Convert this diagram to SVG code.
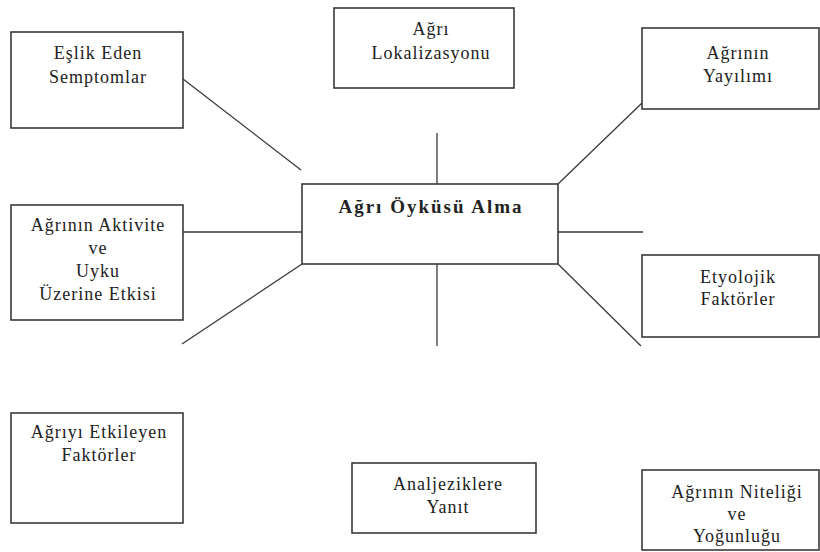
<svg xmlns="http://www.w3.org/2000/svg" width="820" height="552" viewBox="0 0 820 552">
<style>
.box{fill:#fff;stroke:#3a3a3a;stroke-width:1.6}
.t{font-size:18px;letter-spacing:1px;fill:#222;text-anchor:middle}
.b{font-size:19px;font-weight:bold;letter-spacing:2px;fill:#222;text-anchor:middle}
.c{stroke:#3a3a3a;stroke-width:1.3;fill:none}
</style>
<rect width="820" height="552" fill="#fff"/>
<g id="connectors">
<line class="c" x1="183" y1="79" x2="301" y2="170"/>
<line class="c" x1="183" y1="232" x2="302" y2="232"/>
<line class="c" x1="182" y1="344" x2="302" y2="264"/>
<line class="c" x1="437" y1="133" x2="437" y2="184"/>
<line class="c" x1="437" y1="264" x2="437" y2="346"/>
<line class="c" x1="558" y1="184" x2="642" y2="103"/>
<line class="c" x1="558" y1="232" x2="643" y2="232"/>
<line class="c" x1="558" y1="264" x2="641" y2="346"/>
</g>
<g font-family="Liberation Serif, Times New Roman, DejaVu Serif, serif">
<g id="center">
<rect class="box" x="302" y="184" width="256" height="80"/>
<text class="b" x="431" y="213">Ağrı Öyküsü Alma</text>
</g>
<g id="eslik">
<rect class="box" x="11" y="32" width="172" height="96"/>
<text class="t" x="98" y="59">Eşlik Eden</text>
<text class="t" x="98" y="83">Semptomlar</text>
</g>
<g id="lokalizasyon">
<rect class="box" x="334" y="8" width="180" height="80"/>
<text class="t" x="431" y="35">Ağrı</text>
<text class="t" x="431" y="59">Lokalizasyonu</text>
</g>
<g id="yayilim">
<rect class="box" x="642" y="28" width="177" height="81"/>
<text class="t" x="738" y="59">Ağrının</text>
<text class="t" x="738" y="82">Yayılımı</text>
</g>
<g id="aktivite">
<rect class="box" x="11" y="205" width="172" height="115"/>
<text class="t" x="98" y="231">Ağrının Aktivite</text>
<text class="t" x="98" y="254">ve</text>
<text class="t" x="98" y="277">Uyku</text>
<text class="t" x="98" y="300">Üzerine Etkisi</text>
</g>
<g id="etyoloji">
<rect class="box" x="642" y="255" width="177" height="82"/>
<text class="t" x="738" y="283">Etyolojik</text>
<text class="t" x="738" y="305">Faktörler</text>
</g>
<g id="etkileyen">
<rect class="box" x="11" y="413" width="172" height="110"/>
<text class="t" x="99" y="438">Ağrıyı Etkileyen</text>
<text class="t" x="99" y="461">Faktörler</text>
</g>
<g id="analjezik">
<rect class="box" x="352" y="463" width="184" height="70"/>
<text class="t" x="448" y="490">Analjeziklere</text>
<text class="t" x="448" y="513">Yanıt</text>
</g>
<g id="nitelik">
<rect class="box" x="642" y="470" width="177" height="80"/>
<text class="t" x="737" y="498">Ağrının Niteliği</text>
<text class="t" x="737" y="520">ve</text>
<text class="t" x="737" y="542">Yoğunluğu</text>
</g>
</g>
</svg>
